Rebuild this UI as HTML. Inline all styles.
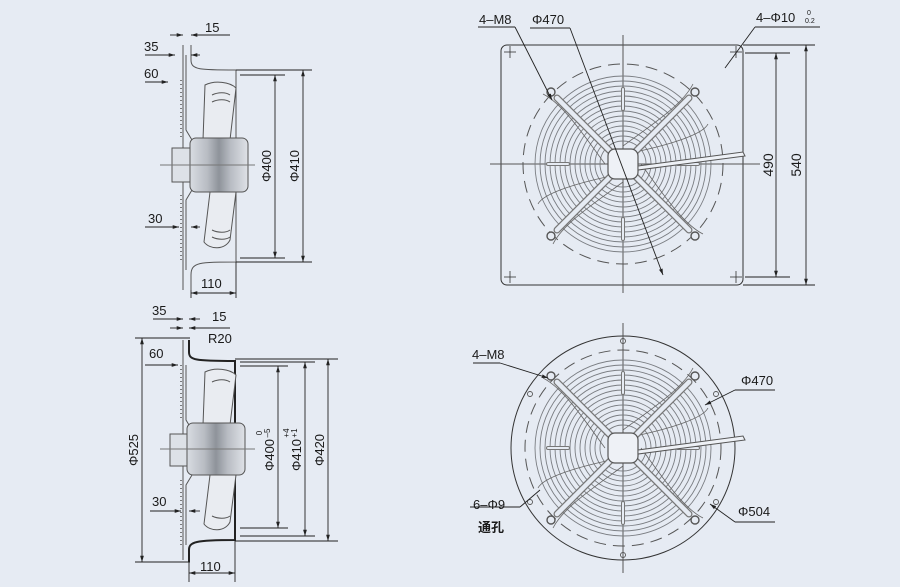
<!DOCTYPE html>
<html><head><meta charset="utf-8"><style>
html,body{margin:0;padding:0;background:#e6ebf3;}
svg{display:block;}
text{font-family:"Liberation Sans","Noto Sans CJK SC",sans-serif;fill:#1a1a1a;}
</style></head><body>
<svg width="900" height="587" viewBox="0 0 900 587" xmlns="http://www.w3.org/2000/svg">
<defs>
<linearGradient id="mg" x1="0" y1="0" x2="1" y2="0">
<stop offset="0" stop-color="#d8dce2"/><stop offset="0.3" stop-color="#b8bcc3"/><stop offset="0.5" stop-color="#8e939a"/><stop offset="0.7" stop-color="#b8bcc3"/><stop offset="1" stop-color="#dfe2e7"/>
</linearGradient>
<marker id="a" viewBox="0 0 10 10" refX="10" refY="5" markerWidth="7" markerHeight="7" orient="auto-start-reverse"><path d="M0,2 L10,5 L0,8 z" fill="#222"/></marker>
<g id="guard">
  <g fill="none" stroke="#7a7d82" stroke-width="0.9">
    <circle r="88"/><circle r="83"/><circle r="78"/><circle r="73"/><circle r="68"/><circle r="63"/><circle r="58"/><circle r="53"/><circle r="48"/><circle r="43"/><circle r="38"/><circle r="33"/><circle r="28"/><circle r="23"/>
  </g>
  <g fill="none" stroke="#666" stroke-width="0.8">
    <path d="M0,-18 C30,-40 60,-60 70,-80"/><path d="M18,0 C40,30 60,60 80,70"/><path d="M0,18 C-30,40 -60,60 -70,80"/><path d="M-18,0 C-40,-30 -60,-60 -80,-70"/>
    <path d="M12,-12 C50,-20 80,-30 85,-40"/><path d="M-12,12 C-50,20 -80,30 -85,40"/>
  </g>
  <g stroke="#777" stroke-width="7" stroke-linecap="round"><line x1="-66" y1="-66" x2="66" y2="66"/><line x1="66" y1="-66" x2="-66" y2="66"/></g>
  <g stroke="#e6ebf3" stroke-width="4.5" stroke-linecap="round"><line x1="-66" y1="-66" x2="66" y2="66"/><line x1="66" y1="-66" x2="-66" y2="66"/></g>
  <g fill="#e6ebf3" stroke="#555" stroke-width="1.4"><circle cx="-72" cy="-72" r="4"/><circle cx="72" cy="-72" r="4"/><circle cx="-72" cy="72" r="4"/><circle cx="72" cy="72" r="4"/></g>
  <g stroke="#777" stroke-width="4" stroke-linecap="round"><line x1="0" y1="-75" x2="0" y2="-55"/><line x1="0" y1="75" x2="0" y2="55"/><line x1="-75" y1="0" x2="-55" y2="0"/><line x1="75" y1="0" x2="55" y2="0"/></g>
  <g stroke="#e6ebf3" stroke-width="2" stroke-linecap="round"><line x1="0" y1="-75" x2="0" y2="-55"/><line x1="0" y1="75" x2="0" y2="55"/><line x1="-75" y1="0" x2="-55" y2="0"/><line x1="75" y1="0" x2="55" y2="0"/></g>
  <rect x="-15" y="-15" width="30" height="30" rx="7" fill="#eef1f6" stroke="#555" stroke-width="1.2"/>
  <path d="M15,2 L120,-12 L122,-8 L15,6 z" fill="#eef1f6" stroke="#555" stroke-width="1"/>
</g>
</defs>

<!-- TOP RIGHT -->
<g stroke="#333" fill="none" stroke-width="1">
  <rect x="501" y="45" width="242" height="240" rx="6"/>
  <circle cx="623" cy="164" r="100" stroke-dasharray="12,7" stroke="#555"/>
  <line x1="623" y1="35" x2="623" y2="293" stroke="#555"/>
  <line x1="490" y1="164" x2="760" y2="164" stroke="#555"/>
</g>
<g stroke="#333" stroke-width="0.8">
  <line x1="504" y1="52" x2="516" y2="52"/><line x1="510" y1="46" x2="510" y2="58"/>
  <line x1="504" y1="277" x2="516" y2="277"/><line x1="510" y1="271" x2="510" y2="283"/>
  <line x1="730" y1="52" x2="742" y2="52"/><line x1="736" y1="46" x2="736" y2="58"/>
  <line x1="730" y1="277" x2="742" y2="277"/><line x1="736" y1="271" x2="736" y2="283"/>
</g>
<use href="#guard" x="623" y="164"/>
<g stroke="#222" stroke-width="0.9" fill="none">
  <line x1="478" y1="27" x2="515" y2="27"/><line x1="515" y1="27" x2="552" y2="100" marker-end="url(#a)"/>
  <line x1="530" y1="28" x2="570" y2="28"/><line x1="570" y1="28" x2="663" y2="275" marker-end="url(#a)"/>
  <line x1="755" y1="27" x2="820" y2="27"/><line x1="755" y1="27" x2="725" y2="68"/>
  <line x1="745" y1="53" x2="790" y2="53"/><line x1="745" y1="277" x2="790" y2="277"/>
  <line x1="743" y1="45" x2="815" y2="45"/><line x1="743" y1="285" x2="815" y2="285"/>
  <line x1="776" y1="53" x2="776" y2="277" marker-start="url(#a)" marker-end="url(#a)"/>
  <line x1="806" y1="45" x2="806" y2="285" marker-start="url(#a)" marker-end="url(#a)"/>
</g>
<text x="479" y="24" font-size="13">4–M8</text>
<text x="532" y="24" font-size="13">Φ470</text>
<text x="756" y="22" font-size="13">4–Φ10</text>
<text x="807" y="15" font-size="7">0</text><text x="805" y="23" font-size="7">0.2</text>
<text transform="translate(773,165) rotate(-90)" font-size="14" text-anchor="middle">490</text>
<text transform="translate(801,165) rotate(-90)" font-size="14" text-anchor="middle">540</text>

<!-- BOTTOM RIGHT -->
<g stroke="#333" fill="none" stroke-width="1">
  <circle cx="623" cy="448" r="112"/>
  <circle cx="623" cy="448" r="98" stroke-dasharray="12,7" stroke="#555"/>
  <line x1="623" y1="323" x2="623" y2="573" stroke="#555"/>
</g>
<g fill="none" stroke="#555" stroke-width="0.9">
  <circle cx="623" cy="341" r="2.5"/><circle cx="623" cy="555" r="2.5"/>
  <circle cx="530" cy="394" r="2.5"/><circle cx="716" cy="394" r="2.5"/>
  <circle cx="530" cy="502" r="2.5"/><circle cx="716" cy="502" r="2.5"/>
</g>
<use href="#guard" x="623" y="448"/>
<g stroke="#222" stroke-width="0.9" fill="none">
  <line x1="473" y1="363" x2="500" y2="363"/><line x1="500" y1="363" x2="548" y2="378" marker-end="url(#a)"/>
  <line x1="735" y1="390" x2="775" y2="390"/><line x1="735" y1="390" x2="705" y2="405" marker-end="url(#a)"/>
  <line x1="470" y1="507" x2="520" y2="507"/><line x1="520" y1="507" x2="540" y2="490"/>
  <line x1="735" y1="522" x2="775" y2="522"/><line x1="735" y1="522" x2="710" y2="504" marker-end="url(#a)"/>
</g>
<text x="472" y="359" font-size="13">4–M8</text>
<text x="741" y="385" font-size="13">Φ470</text>
<text x="473" y="509" font-size="13">6–Φ9</text>
<text x="478" y="532" font-size="13" font-weight="bold">通孔</text>
<text x="738" y="516" font-size="13">Φ504</text>

<!-- TOP LEFT SIDE VIEW -->
<g fill="none" stroke="#555" stroke-width="1">
  <path d="M183,45 L183,290 M191,45 L191,60 C191,70 200,70 236,70 L236,262 C200,262 191,262 191,275 L191,290"/>
  <path d="M186,55 L186,130 L192,140 M186,200 L192,190 L186,200 L186,270"/>
  <path d="M205,85 C215,80 230,82 236,88 L230,140 L236,192 L230,240 C225,250 210,250 204,242 L210,192 L203,140 z" fill="#e9ecf1"/>
  <path d="M212,95 C218,92 226,92 230,95 M212,102 C218,99 226,99 230,102 M212,230 C218,233 226,233 230,230 M212,237 C218,240 226,240 230,237"/>
  <rect x="190" y="138" width="58" height="54" rx="6" fill="url(#mg)"/>
  <rect x="172" y="148" width="18" height="34" fill="#dde1e7"/>
  <line x1="160" y1="165" x2="255" y2="165" stroke="#777"/>
</g>
<g stroke="#555" stroke-width="1.5" stroke-dasharray="1,3"><line x1="181" y1="80" x2="181" y2="140"/><line x1="181" y1="195" x2="181" y2="260"/></g>
<g stroke="#222" stroke-width="0.9" fill="none">
  <line x1="236" y1="70" x2="312" y2="70"/><line x1="236" y1="262" x2="312" y2="262"/>
  <line x1="240" y1="75" x2="285" y2="75"/><line x1="240" y1="258" x2="285" y2="258"/>
  <line x1="275" y1="75" x2="275" y2="258" marker-start="url(#a)" marker-end="url(#a)"/>
  <line x1="303" y1="70" x2="303" y2="262" marker-start="url(#a)" marker-end="url(#a)"/>
  <line x1="170" y1="35" x2="183" y2="35" marker-end="url(#a)"/><line x1="204" y1="35" x2="191" y2="35" marker-end="url(#a)"/><line x1="191" y1="35" x2="230" y2="35"/>
  <line x1="145" y1="55" x2="175" y2="55" marker-end="url(#a)"/><line x1="200" y1="55" x2="191" y2="55" marker-end="url(#a)"/>
  <line x1="145" y1="82" x2="168" y2="82" marker-end="url(#a)"/>
  <line x1="145" y1="227" x2="179" y2="227" marker-end="url(#a)"/><line x1="200" y1="227" x2="191" y2="227" marker-end="url(#a)"/>
  <line x1="191" y1="290" x2="191" y2="298"/><line x1="236" y1="262" x2="236" y2="298"/>
  <line x1="191" y1="293" x2="236" y2="293" marker-start="url(#a)" marker-end="url(#a)"/>
</g>
<text x="205" y="32" font-size="13">15</text>
<text x="144" y="51" font-size="13">35</text>
<text x="144" y="78" font-size="13">60</text>
<text x="148" y="223" font-size="13">30</text>
<text x="201" y="288" font-size="13">110</text>
<text transform="translate(271,166) rotate(-90)" font-size="13" text-anchor="middle">Φ400</text>
<text transform="translate(299,166) rotate(-90)" font-size="13" text-anchor="middle">Φ410</text>

<!-- BOTTOM LEFT SIDE VIEW -->
<g fill="none" stroke="#555" stroke-width="1">
  <path d="M183,340 L183,560"/>
  <path d="M189,340 L189,352 C189,360 195,361 235,361 L235,540 C195,540 189,542 189,550 L189,562" stroke="#222" stroke-width="2"/>
  <path d="M186,365 L186,420 L192,430 M192,475 L186,485 L186,545"/>
  <path d="M205,372 C215,367 230,369 236,375 L230,425 L236,475 L230,522 C225,532 210,532 204,524 L210,475 L203,425 z" fill="#e9ecf1"/>
  <path d="M212,382 C218,379 226,379 230,382 M212,516 C218,519 226,519 230,516"/>
  <rect x="187" y="423" width="58" height="52" rx="6" fill="url(#mg)"/>
  <rect x="170" y="434" width="17" height="32" fill="#dde1e7"/>
  <line x1="160" y1="449" x2="255" y2="449" stroke="#777"/>
</g>
<g stroke="#555" stroke-width="1.5" stroke-dasharray="1,3"><line x1="181" y1="365" x2="181" y2="420"/><line x1="181" y1="480" x2="181" y2="545"/></g>
<g stroke="#222" stroke-width="0.9" fill="none">
  <line x1="135" y1="338" x2="190" y2="338"/><line x1="135" y1="562" x2="190" y2="562"/>
  <line x1="142" y1="338" x2="142" y2="562" marker-start="url(#a)" marker-end="url(#a)"/>
  <line x1="235" y1="359" x2="338" y2="359"/><line x1="235" y1="541" x2="338" y2="541"/>
  <line x1="240" y1="362" x2="315" y2="362"/><line x1="240" y1="536" x2="315" y2="536"/>
  <line x1="240" y1="366" x2="288" y2="366"/><line x1="240" y1="528" x2="288" y2="528"/>
  <line x1="278" y1="366" x2="278" y2="528" marker-start="url(#a)" marker-end="url(#a)"/>
  <line x1="305" y1="362" x2="305" y2="536" marker-start="url(#a)" marker-end="url(#a)"/>
  <line x1="328" y1="359" x2="328" y2="541" marker-start="url(#a)" marker-end="url(#a)"/>
  <line x1="153" y1="319" x2="183" y2="319" marker-end="url(#a)"/><line x1="200" y1="319" x2="189" y2="319" marker-end="url(#a)"/>
  <line x1="170" y1="328" x2="183" y2="328" marker-end="url(#a)"/><line x1="205" y1="328" x2="189" y2="328" marker-end="url(#a)"/><line x1="189" y1="328" x2="230" y2="328"/>
  <line x1="145" y1="365" x2="178" y2="365" marker-end="url(#a)"/>
  <line x1="150" y1="511" x2="181" y2="511" marker-end="url(#a)"/><line x1="200" y1="511" x2="189" y2="511" marker-end="url(#a)"/>
  <line x1="189" y1="562" x2="189" y2="582"/><line x1="235" y1="541" x2="235" y2="582"/>
  <line x1="189" y1="573" x2="235" y2="573" marker-start="url(#a)" marker-end="url(#a)"/>
</g>
<text x="152" y="315" font-size="13">35</text>
<text x="212" y="321" font-size="13">15</text>
<text x="208" y="343" font-size="13">R20</text>
<text x="149" y="358" font-size="13">60</text>
<text x="152" y="506" font-size="13">30</text>
<text x="200" y="571" font-size="13">110</text>
<text transform="translate(138,450) rotate(-90)" font-size="13" text-anchor="middle">Φ525</text>
<text transform="translate(274,455) rotate(-90)" font-size="13" text-anchor="middle">Φ400</text>
<text transform="translate(262,433) rotate(-90)" font-size="8" text-anchor="middle">0</text>
<text transform="translate(270,433) rotate(-90)" font-size="8" text-anchor="middle">–5</text>
<text transform="translate(301,455) rotate(-90)" font-size="13" text-anchor="middle">Φ410</text>
<text transform="translate(289,433) rotate(-90)" font-size="8" text-anchor="middle">+4</text>
<text transform="translate(297,433) rotate(-90)" font-size="8" text-anchor="middle">+1</text>
<text transform="translate(324,450) rotate(-90)" font-size="13" text-anchor="middle">Φ420</text>
</svg>
</body></html>
